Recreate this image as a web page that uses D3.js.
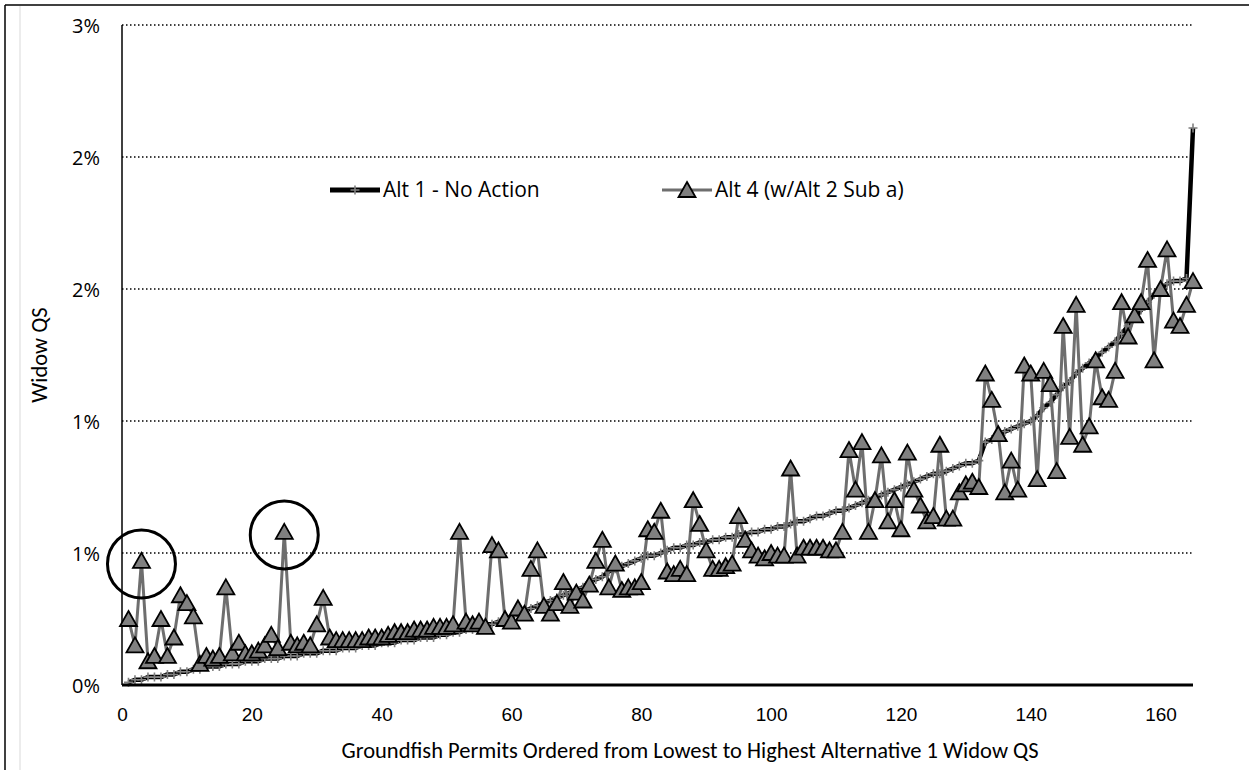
<!DOCTYPE html>
<html>
<head>
<meta charset="utf-8">
<script src="https://cdn.jsdelivr.net/npm/d3@7"></script>
<style>
    body { margin: 0; background: #fff; }
    svg { display: block; font-family: Carlito, Calibri, Lato, sans-serif; }
    .axisLabel { font-size: 22.5px; fill: #000; }
    .xTick { font-size: 19px; fill: #000; }
    .yTick { font-family: "Open Sans", sans-serif; font-size: 20px; fill: #000; }
    .legendText { font-family: "Open Sans", sans-serif; font-size: 21px; fill: #000; }
</style>
</head>
<body>
<svg id="chart"></svg>
<script>
// permit rank (x) and Widow QS in percent for each alternative
const permits = d3.range(1, 166);

const alt1 = [
    0.01, 0.02, 0.02, 0.03, 0.03, 0.03, 0.04, 0.04, 0.05, 0.05,
    0.06, 0.06, 0.07, 0.07, 0.07, 0.08, 0.08, 0.08, 0.09, 0.09,
    0.09, 0.10, 0.10, 0.10, 0.11, 0.11, 0.11, 0.12, 0.12, 0.12,
    0.13, 0.13, 0.13, 0.14, 0.14, 0.14, 0.15, 0.15, 0.15, 0.16,
    0.16, 0.16, 0.17, 0.17, 0.17, 0.18, 0.18, 0.18, 0.19, 0.19,
    0.20, 0.20, 0.21, 0.21, 0.22, 0.23, 0.23, 0.24, 0.25, 0.26,
    0.27, 0.28, 0.29, 0.30, 0.31, 0.32, 0.33, 0.34, 0.35, 0.36,
    0.37, 0.39, 0.40, 0.41, 0.43, 0.44, 0.45, 0.46, 0.47, 0.48,
    0.49, 0.49, 0.50, 0.51, 0.52, 0.52, 0.53, 0.53, 0.54, 0.54,
    0.55, 0.55, 0.56, 0.56, 0.57, 0.57, 0.58, 0.58, 0.59, 0.59,
    0.60, 0.60, 0.61, 0.62, 0.62, 0.63, 0.64, 0.64, 0.65, 0.66,
    0.66, 0.67, 0.68, 0.69, 0.70, 0.71, 0.72, 0.73, 0.74, 0.75,
    0.76, 0.77, 0.78, 0.79, 0.80, 0.80, 0.81, 0.82, 0.83, 0.84,
    0.84, 0.85, 0.92, 0.93, 0.95, 0.96, 0.97, 0.98, 0.99, 1.00,
    1.02, 1.05, 1.07, 1.10, 1.13, 1.15, 1.18, 1.20, 1.22, 1.24,
    1.26, 1.28, 1.30, 1.33, 1.36, 1.39, 1.42, 1.45, 1.48, 1.50,
    1.52, 1.53, 1.53, 1.54, 2.11
];

const alt4 = [
    0.25, 0.15, 0.47, 0.09, 0.11, 0.25, 0.11, 0.18, 0.34, 0.31,
    0.26, 0.08, 0.11, 0.10, 0.11, 0.37, 0.12, 0.16, 0.12, 0.12,
    0.13, 0.15, 0.19, 0.14, 0.58, 0.16, 0.15, 0.16, 0.15, 0.23,
    0.33, 0.18, 0.17, 0.17, 0.17, 0.17, 0.17, 0.18, 0.18, 0.18,
    0.19, 0.20, 0.20, 0.20, 0.21, 0.21, 0.21, 0.22, 0.22, 0.22,
    0.23, 0.58, 0.24, 0.23, 0.24, 0.22, 0.53, 0.51, 0.25, 0.24,
    0.29, 0.27, 0.44, 0.51, 0.30, 0.27, 0.31, 0.39, 0.30, 0.35,
    0.32, 0.38, 0.47, 0.55, 0.37, 0.46, 0.36, 0.37, 0.37, 0.39,
    0.59, 0.58, 0.66, 0.43, 0.42, 0.44, 0.42, 0.70, 0.61, 0.51,
    0.44, 0.44, 0.45, 0.46, 0.64, 0.55, 0.51, 0.49, 0.48, 0.50,
    0.49, 0.49, 0.82, 0.49, 0.52, 0.52, 0.52, 0.52, 0.51, 0.51,
    0.58, 0.89, 0.74, 0.92, 0.58, 0.70, 0.87, 0.62, 0.70, 0.59,
    0.88, 0.74, 0.68, 0.62, 0.64, 0.91, 0.63, 0.63, 0.73, 0.76,
    0.77, 0.75, 1.18, 1.08, 0.95, 0.73, 0.85, 0.74, 1.21, 1.18,
    0.78, 1.19, 1.14, 0.81, 1.36, 0.94, 1.44, 0.91, 0.98, 1.23,
    1.09, 1.08, 1.19, 1.45, 1.32, 1.40, 1.45, 1.61, 1.23, 1.50,
    1.65, 1.38, 1.36, 1.44, 1.53
];

const xTicks = [0, 20, 40, 60, 80, 100, 120, 140, 160];
const yTicks = [0, 0.5, 1, 1.5, 2, 2.5];
const yTickLabels = ['0%', '1%', '1%', '2%', '2%', '3%'];

// permits that are circled on the chart
const circled = [3, 25];

const seriesNames = ['Alt 1 - No Action', 'Alt 4 (w/Alt 2 Sub a)'];

class WidowChart {
    constructor(_config) {
        this.config = {
            parentElement: _config.parentElement,
            containerWidth: 1249,
            containerHeight: 770,
            margin: { top: 25, right: 56, bottom: 85, left: 122 }
        };
        this.initVis();
    }

    initVis() {
        let vis = this;

        vis.width = vis.config.containerWidth - vis.config.margin.left - vis.config.margin.right;
        vis.height = vis.config.containerHeight - vis.config.margin.top - vis.config.margin.bottom;

        vis.xScale = d3.scaleLinear()
            .domain([0, 165])
            .range([0, vis.width]);

        vis.yScale = d3.scaleLinear()
            .domain([0, 2.5])
            .range([vis.height, 0]);

        vis.svg = d3.select(vis.config.parentElement)
            .attr('width', vis.config.containerWidth)
            .attr('height', vis.config.containerHeight);

        // page frame
        vis.svg.append('line')
            .attr('x1', 5).attr('x2', 5).attr('y1', 5).attr('y2', 770)
            .attr('stroke', '#000').attr('stroke-width', 1.5);
        vis.svg.append('line')
            .attr('x1', 5).attr('x2', 1249).attr('y1', 5).attr('y2', 5)
            .attr('stroke', '#000').attr('stroke-width', 1.5);
        vis.svg.append('line')
            .attr('x1', 20).attr('x2', 20).attr('y1', 6).attr('y2', 770)
            .attr('stroke', '#d9d9d9').attr('stroke-width', 1);

        vis.chart = vis.svg.append('g')
            .attr('transform', `translate(${vis.config.margin.left},${vis.config.margin.top})`);

        vis.xAxis = d3.axisBottom(vis.xScale)
            .tickValues(xTicks)
            .tickSize(0)
            .tickPadding(23);

        vis.yAxis = d3.axisLeft(vis.yScale)
            .tickValues(yTicks)
            .tickFormat((d, i) => yTickLabels[i])
            .tickSize(0)
            .tickPadding(22);

        vis.updateVis();
    }

    updateVis() {
        let vis = this;

        vis.data = permits.map((p, i) => ({ permit: p, alt1: alt1[i], alt4: alt4[i] }));

        vis.lineAlt1 = d3.line()
            .x(d => vis.xScale(d.permit))
            .y(d => vis.yScale(d.alt1));

        vis.lineAlt4 = d3.line()
            .x(d => vis.xScale(d.permit))
            .y(d => vis.yScale(d.alt4));

        vis.renderVis();
    }

    renderVis() {
        let vis = this;

        // dotted gridlines
        vis.chart.selectAll('.grid')
            .data(yTicks)
            .join('line')
            .attr('class', 'grid')
            .attr('x1', 0)
            .attr('x2', vis.width)
            .attr('y1', d => vis.yScale(d))
            .attr('y2', d => vis.yScale(d))
            .attr('stroke', '#000')
            .attr('stroke-width', 1.4)
            .attr('stroke-dasharray', '1.5,2.5');

        // axes
        const xAxisG = vis.chart.append('g')
            .attr('transform', `translate(0,${vis.height})`)
            .call(vis.xAxis);
        xAxisG.select('.domain').remove();
        xAxisG.selectAll('text').attr('class', 'xTick').attr('font-family', null).attr('font-size', null);

        const yAxisG = vis.chart.append('g').call(vis.yAxis);
        yAxisG.select('.domain').remove();
        yAxisG.selectAll('text').attr('class', 'yTick').attr('font-family', null).attr('font-size', null)
            .attr('dy', '0.35em');

        vis.chart.append('line')
            .attr('x1', 0).attr('x2', 0).attr('y1', 0).attr('y2', vis.height)
            .attr('stroke', '#000').attr('stroke-width', 1.5);

        // Alt 1 line with plus markers
        vis.chart.append('path')
            .datum(vis.data)
            .attr('fill', 'none')
            .attr('stroke', '#000')
            .attr('stroke-width', 4.5)
            .attr('stroke-linejoin', 'round')
            .attr('d', vis.lineAlt1);

        vis.chart.selectAll('.plus')
            .data(vis.data)
            .join('path')
            .attr('class', 'plus')
            .attr('transform', d => `translate(${vis.xScale(d.permit)},${vis.yScale(d.alt1)})`)
            .attr('d', 'M-4.5,0H4.5M0,-4.5V4.5')
            .attr('stroke', '#808080')
            .attr('stroke-width', 1.6);

        // Alt 4 line with triangle markers
        vis.chart.append('path')
            .datum(vis.data)
            .attr('fill', 'none')
            .attr('stroke', '#6e6e6e')
            .attr('stroke-width', 3)
            .attr('stroke-linejoin', 'round')
            .attr('d', vis.lineAlt4);

        vis.chart.selectAll('.tri')
            .data(vis.data)
            .join('path')
            .attr('class', 'tri')
            .attr('transform', d => `translate(${vis.xScale(d.permit)},${vis.yScale(d.alt4)})`)
            .attr('d', 'M0,-8L8.5,7H-8.5Z')
            .attr('fill', '#808080')
            .attr('stroke', '#000')
            .attr('stroke-width', 1.8)
            .attr('stroke-linejoin', 'miter');

        // bottom axis line drawn over the markers
        vis.chart.append('line')
            .attr('x1', 0).attr('x2', vis.width).attr('y1', vis.height).attr('y2', vis.height)
            .attr('stroke', '#000').attr('stroke-width', 3);

        // circled permits
        vis.chart.selectAll('.callout')
            .data(circled)
            .join('circle')
            .attr('class', 'callout')
            .attr('cx', d => vis.xScale(d))
            .attr('cy', d => vis.yScale(alt4[d - 1]) + 3)
            .attr('r', 34)
            .attr('fill', 'none')
            .attr('stroke', '#000')
            .attr('stroke-width', 3);

        // axis titles
        vis.svg.append('text')
            .attr('class', 'axisLabel')
            .attr('text-anchor', 'middle')
            .attr('x', 690)
            .attr('y', 758)
            .text('Groundfish Permits Ordered from Lowest to Highest Alternative 1 Widow QS');

        vis.svg.append('text')
            .attr('class', 'axisLabel')
            .attr('text-anchor', 'middle')
            .attr('transform', `translate(47, ${vis.config.margin.top + vis.height / 2}) rotate(-90)`)
            .text('Widow QS');

        // legend
        vis.legend = vis.svg.append('g')
            .attr('transform', 'translate(330, 190)');

        vis.legend.append('line')
            .attr('x1', 0).attr('x2', 50).attr('y1', 0).attr('y2', 0)
            .attr('stroke', '#000').attr('stroke-width', 5);
        vis.legend.append('path')
            .attr('transform', 'translate(25,0)')
            .attr('d', 'M-4.5,0H4.5M0,-4.5V4.5')
            .attr('stroke', '#808080').attr('stroke-width', 1.6);
        vis.legend.append('text')
            .attr('class', 'legendText')
            .attr('x', 53).attr('y', 7)
            .text(seriesNames[0]);

        vis.legend.append('line')
            .attr('x1', 332).attr('x2', 382).attr('y1', 0).attr('y2', 0)
            .attr('stroke', '#6e6e6e').attr('stroke-width', 3);
        vis.legend.append('path')
            .attr('transform', 'translate(357,0)')
            .attr('d', 'M0,-8L8.5,7H-8.5Z')
            .attr('fill', '#808080').attr('stroke', '#000').attr('stroke-width', 1.8);
        vis.legend.append('text')
            .attr('class', 'legendText')
            .attr('x', 385).attr('y', 7)
            .text(seriesNames[1]);
    }
}

new WidowChart({ parentElement: '#chart' });
</script>
</body>
</html>
